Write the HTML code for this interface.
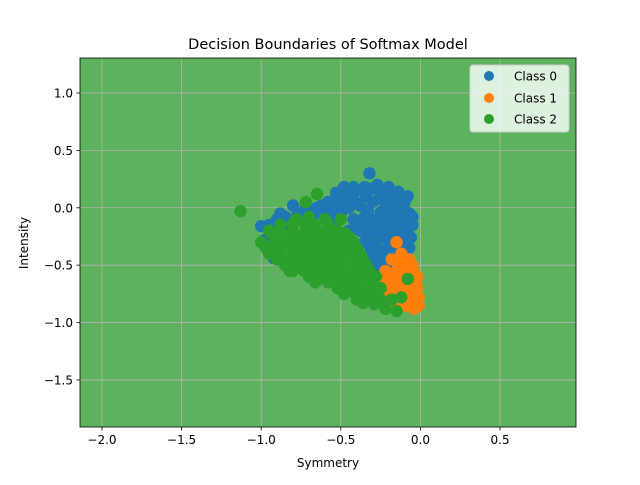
<!DOCTYPE html>
<html><head><meta charset="utf-8"><style>body{margin:0;background:#fff}svg text{font-family:"DejaVu Sans","Liberation Sans",sans-serif}</style></head>
<body>
<svg id="c" width="640" height="480" viewBox="0 0 640 480">
<rect x="0" y="0" width="640" height="480" fill="#fff"/>
<rect x="80" y="58" width="496" height="369" fill="#5db35d"/>
<g id="grid"></g><g id="pts"></g><g id="axes"></g>
<rect x="80" y="58" width="496" height="369" fill="none" stroke="#000" stroke-width="0.8"/>
<text x="328" y="49" font-size="14.5" text-anchor="middle">Decision Boundaries of Softmax Model</text>
<text x="328" y="467" font-size="12" text-anchor="middle">Symmetry</text>
<text x="28" y="243" font-size="12" text-anchor="middle" transform="rotate(-90 28 243)">Intensity</text>
<g>
<rect x="470" y="65" width="99" height="67" rx="3" fill="#fff" fill-opacity="0.8" stroke="#ccc"/>
<circle cx="489" cy="76" r="5" fill="#1f77b4"/>
<text x="514" y="80.5" font-size="12">Class 0</text>
<circle cx="489" cy="98" r="5" fill="#ff7f0e"/>
<text x="514" y="102.5" font-size="12">Class 1</text>
<circle cx="489" cy="119" r="5" fill="#2ca02c"/>
<text x="514" y="123.5" font-size="12">Class 2</text>
</g>
</svg>
<script>
const xTicks=[-2.0,-1.5,-1.0,-0.5,0.0,0.5];
const yTicks=[1.0,0.5,0.0,-0.5,-1.0,-1.5];
const class0=[[-0.45,0.1],[-0.4,0.15],[-0.35,0.18],[-0.3,0.17],[-0.25,0.15],[-0.2,0.12],[-0.15,0.1],[-0.1,0.05],[-0.08,0.1],[-0.32,0.3],
[-0.45,0.0],[-0.38,0.02],[-0.3,0.05],[-0.22,0.03],[-0.15,0.0],[-0.1,-0.02],[-0.07,-0.05],
[-0.42,-0.1],[-0.35,-0.08],[-0.28,-0.1],[-0.2,-0.1],[-0.13,-0.1],[-0.07,-0.12],
[-0.38,-0.2],[-0.3,-0.2],[-0.22,-0.2],[-0.15,-0.2],[-0.08,-0.2],
[-0.35,-0.3],[-0.28,-0.32],[-0.2,-0.3],[-0.12,-0.3],[-0.07,-0.35],
[-0.3,-0.42],[-0.22,-0.45],[-0.15,-0.42],[-0.08,-0.5],[-0.25,-0.55],[-0.18,-0.6],
[-0.41,0.05],[-0.34,0.1],[-0.26,0.08],[-0.18,0.06],[-0.12,0.04],[-0.33,-0.02],[-0.25,-0.04],[-0.18,-0.05],[-0.11,-0.07],[-0.05,-0.08],
[-0.4,-0.15],[-0.33,-0.15],[-0.25,-0.15],[-0.17,-0.15],[-0.1,-0.16],[-0.05,-0.15],[-0.33,-0.25],[-0.25,-0.25],[-0.18,-0.25],[-0.11,-0.25],[-0.06,-0.26],
[-0.31,-0.36],[-0.24,-0.38],[-0.17,-0.36],[-0.1,-0.38],[-0.27,-0.48],[-0.2,-0.5],[-0.13,-0.47],[-0.22,-0.6],[-0.27,0.2],[-0.2,0.18],[-0.14,0.14],
[-0.95,-0.15],[-0.9,-0.1],[-0.85,-0.08],[-0.8,0.02],[-0.75,-0.05],[-0.7,-0.02],[-0.65,0.0],[-0.6,-0.03],[-0.55,-0.05],[-0.5,0.0],[-0.48,0.18],[-0.42,0.18],
[-0.88,-0.05],[-0.78,-0.08],[-0.72,0.0],[-0.67,-0.06],[-0.62,0.02],[-0.57,0.0],[-0.52,0.05],[-0.5,-0.05],[-0.47,0.1],[-0.53,0.13],
[-0.98,-0.28],[-0.95,-0.35],[-0.92,-0.44],[-0.85,-0.2],[-0.7,-0.15],[-0.55,-0.15],[-0.5,-0.1],[-1.0,-0.16],[-0.58,0.05],[-0.38,-0.12],[-0.45,-0.2],[-0.11,0.1],[-0.6,-0.6],[-0.45,-0.4]];
const class1=[[-0.15,-0.3],[-0.18,-0.45],[-0.12,-0.4],[-0.1,-0.5],[-0.05,-0.5],[-0.15,-0.55],[-0.08,-0.55],[-0.02,-0.6],[-0.12,-0.62],[-0.05,-0.65],[-0.2,-0.6],[-0.25,-0.65],[-0.18,-0.68],[-0.1,-0.7],[-0.02,-0.7],[-0.15,-0.75],[-0.08,-0.75],[-0.01,-0.78],[-0.12,-0.8],[-0.05,-0.82],[-0.01,-0.85],[-0.15,-0.85],[-0.08,-0.85],[-0.2,-0.72],[-0.22,-0.55],[-0.3,-0.65],[-0.17,-0.62],
[-0.14,-0.48],[-0.07,-0.45],[-0.04,-0.56],[-0.11,-0.57],[-0.06,-0.6],[-0.15,-0.66],[-0.08,-0.66],[-0.03,-0.66],[-0.13,-0.72],[-0.05,-0.72],[-0.18,-0.78],[-0.1,-0.78],[-0.04,-0.78],[-0.12,-0.86],[-0.04,-0.88],[-0.02,-0.82],[-0.26,-0.7],[-0.24,-0.6]];
const class2=[[-1.13,-0.03],
[-0.95,-0.2],[-0.88,-0.2],[-0.8,-0.2],[-0.72,-0.2],[-0.65,-0.2],[-0.58,-0.2],[-0.52,-0.2],
[-1.0,-0.3],[-0.92,-0.3],[-0.85,-0.3],[-0.78,-0.3],[-0.7,-0.3],[-0.62,-0.3],[-0.55,-0.3],[-0.48,-0.3],[-0.42,-0.3],
[-0.95,-0.4],[-0.88,-0.4],[-0.8,-0.4],[-0.72,-0.4],[-0.65,-0.4],[-0.58,-0.4],[-0.5,-0.4],[-0.44,-0.4],[-0.38,-0.4],
[-0.85,-0.5],[-0.78,-0.5],[-0.7,-0.5],[-0.62,-0.5],[-0.55,-0.5],[-0.48,-0.5],[-0.4,-0.5],[-0.34,-0.5],
[-0.7,-0.6],[-0.62,-0.6],[-0.55,-0.6],[-0.48,-0.6],[-0.42,-0.6],[-0.35,-0.6],[-0.28,-0.6],
[-0.52,-0.7],[-0.45,-0.7],[-0.38,-0.7],[-0.3,-0.7],[-0.25,-0.7],
[-0.4,-0.8],[-0.32,-0.8],[-0.25,-0.8],[-0.18,-0.8],
[-0.92,-0.25],[-0.84,-0.25],[-0.76,-0.25],[-0.68,-0.25],[-0.61,-0.25],[-0.54,-0.25],[-0.48,-0.22],
[-0.97,-0.35],[-0.89,-0.35],[-0.81,-0.35],[-0.74,-0.35],[-0.66,-0.35],[-0.59,-0.35],[-0.52,-0.35],[-0.45,-0.35],[-0.4,-0.35],
[-0.9,-0.45],[-0.83,-0.45],[-0.76,-0.45],[-0.68,-0.45],[-0.61,-0.45],[-0.54,-0.45],[-0.47,-0.45],[-0.41,-0.45],[-0.36,-0.45],
[-0.8,-0.55],[-0.73,-0.55],[-0.66,-0.55],[-0.59,-0.55],[-0.52,-0.55],[-0.45,-0.55],[-0.38,-0.55],[-0.32,-0.55],
[-0.66,-0.65],[-0.58,-0.65],[-0.51,-0.65],[-0.44,-0.65],[-0.37,-0.65],[-0.31,-0.65],
[-0.48,-0.75],[-0.41,-0.75],[-0.34,-0.75],[-0.27,-0.75],[-0.36,-0.83],[-0.29,-0.84],
[-0.88,-0.15],[-0.8,-0.14],[-0.73,-0.13],[-0.66,-0.15],[-0.58,-0.14],[-0.7,-0.08],
[-0.78,-0.1],[-0.72,0.05],[-0.65,0.12],[-0.6,-0.1],[-0.5,-0.1],[-0.15,-0.9],[-0.12,-0.78],[-0.08,-0.62],[-0.22,-0.88],[-0.82,-0.55],[-0.45,-0.25],[-0.35,-0.5]];
const colors=["#1f77b4","#ff7f0e","#2ca02c"];
const X0=-2.138,X1=0.977,Y0=-1.91,Y1=1.305,L=80,R=576,T=58,B=427;
const sx=v=>L+(v-X0)/(X1-X0)*(R-L);
const sy=v=>B-(v-Y0)/(Y1-Y0)*(B-T);
const NS="http://www.w3.org/2000/svg";
function mk(tag,attrs,parent){const e=document.createElementNS(NS,tag);for(const k in attrs)e.setAttribute(k,attrs[k]);parent.appendChild(e);return e;}
const grid=document.getElementById('grid'),axes=document.getElementById('axes'),pts=document.getElementById('pts');
xTicks.forEach(t=>{const x=sx(t);
 const g=mk('line',{x1:x,x2:x,y1:T,y2:B,stroke:'#b9b0b5','stroke-width':0.8},grid);
 
 
 const k=mk('line',{x1:x,x2:x,y1:B,y2:B+3.5,stroke:'#000','stroke-width':0.8},axes);
 
 
 const s=mk('text',{x:x,y:B+17,'font-size':12,'text-anchor':'middle'},axes);s.textContent=t.toFixed(1).replace('-','−');
 
 });
yTicks.forEach(t=>{const y=sy(t);
 const g=mk('line',{x1:L,x2:R,y1:y,y2:y,stroke:'#b9b0b5','stroke-width':0.8},grid);
 
 
 const k=mk('line',{x1:L-3.5,x2:L,y1:y,y2:y,stroke:'#000','stroke-width':0.8},axes);
 
 
 const s=mk('text',{x:L-7,y:y+4.5,'font-size':12,'text-anchor':'end'},axes);s.textContent=t.toFixed(1).replace('-','−');
 
 });
[class0,class1,class2].forEach((arr,ci)=>{arr.forEach(p=>{
 const c=mk('circle',{cx:sx(p[0]),cy:sy(p[1]),r:6.2,fill:colors[ci]},pts);
 
 });});
</script>
</body></html>
